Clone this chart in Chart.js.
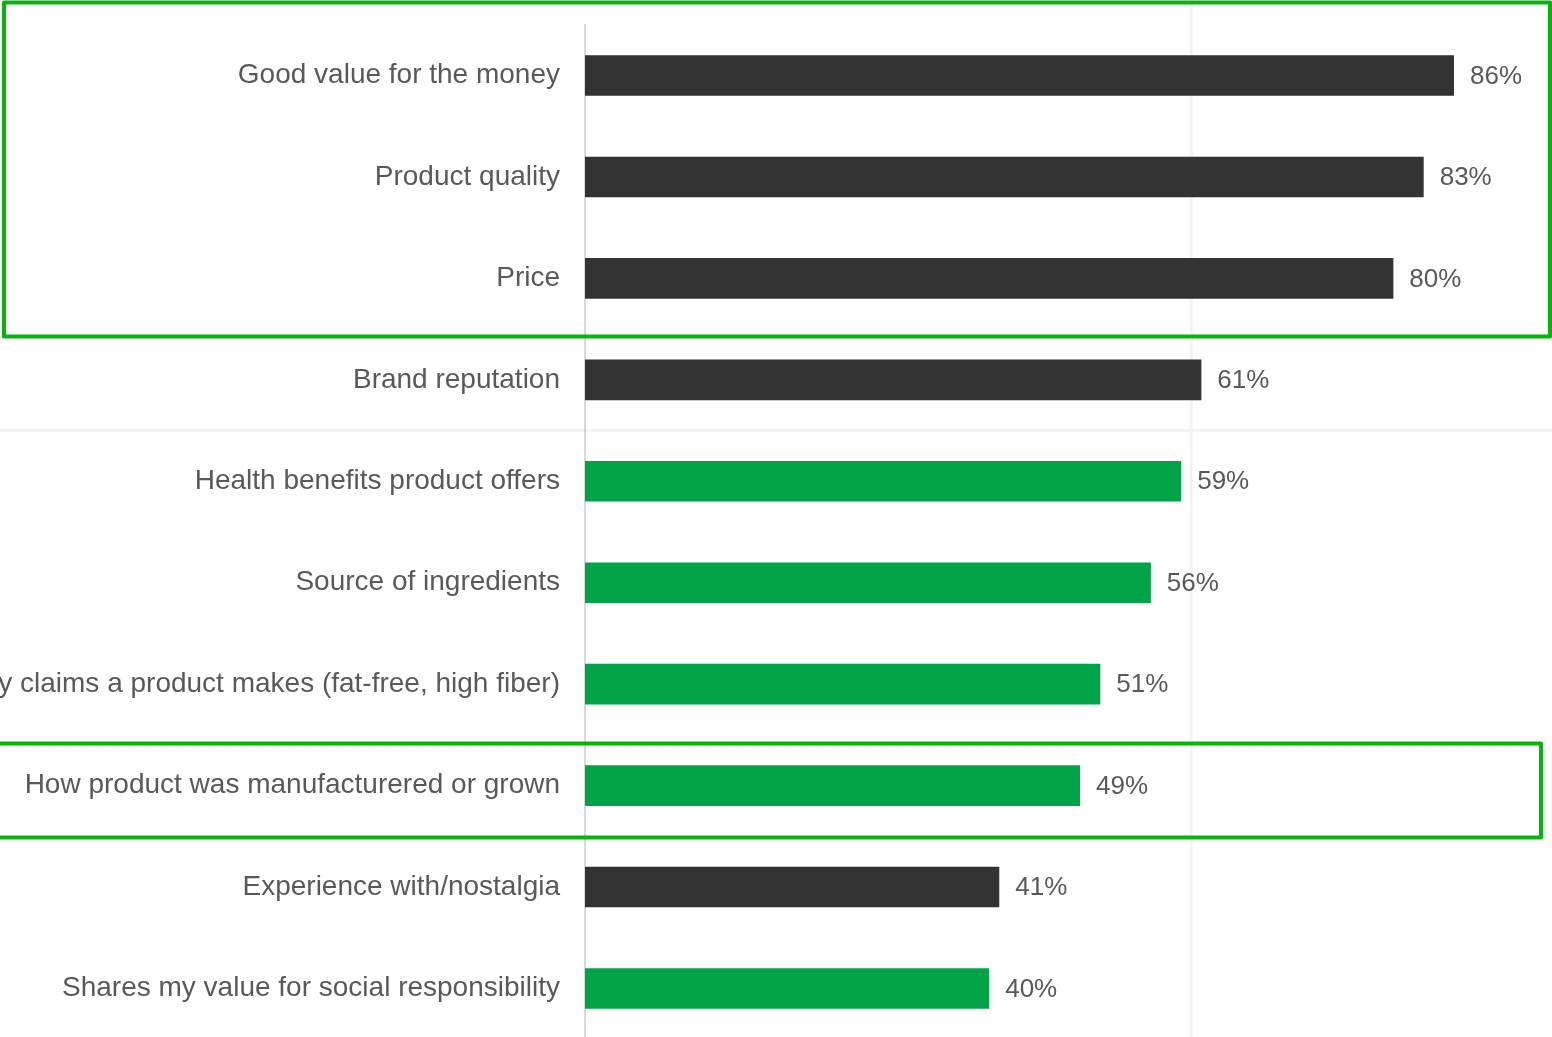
<!DOCTYPE html>
<html>
<head>
<meta charset="utf-8">
<script src="https://cdn.jsdelivr.net/npm/chart.js@4.4.1/dist/chart.umd.min.js"></script>
<style>
  html, body { margin: 0; padding: 0; background: #ffffff; overflow: hidden; }
  #wrap { width: 1552px; height: 1037px; overflow: hidden; position: relative; }
  #c { position: absolute; left: 0; top: -17px; }
</style>
</head>
<body>
<div id="wrap"><canvas id="c" width="1552" height="1098"></canvas></div>
<script>
// Purchase drivers, share of respondents (%)
const categories = [
  "Good value for the money",
  "Product quality",
  "Price",
  "Brand reputation",
  "Health benefits product offers",
  "Source of ingredients",
  "y claims a product makes (fat-free, high fiber)",
  "How product was manufacturered or grown",
  "Experience with/nostalgia",
  "Shares my value for social responsibility"
];
const values = [86, 83, 80, 61, 59, 56, 51, 49, 41, 40];
// "core" drivers are drawn dark, "transparency" drivers green
const groups = ["core", "core", "core", "core", "transparency", "transparency", "transparency", "transparency", "core", "transparency"];
// highlighted ranges of categories (first index, last index)
const highlightRanges = [[0, 2], [7, 7]];
const valueSuffix = "%";

const DARK = "#333333";
const GREEN = "#00A346";
const BOX = "#08B40C";
const TEXT = "#595959";
const FONT = "'Liberation Sans', Arial, sans-serif";

const barColors = groups.map(g => g === "core" ? DARK : GREEN);

// faint background guides: one at the 60% mark, one between rows 4 and 5
const guides = {
  id: "guides",
  beforeDatasetsDraw(chart) {
    const { ctx, scales } = chart;
    const x60 = scales.x.getPixelForValue(60);
    const yMid = (scales.y.getPixelForValue(3) + scales.y.getPixelForValue(4)) / 2;
    ctx.save();
    ctx.strokeStyle = "rgba(0,0,0,0.045)";
    ctx.lineWidth = 3;
    ctx.beginPath();
    ctx.moveTo(x60, 0); ctx.lineTo(x60, chart.height);
    ctx.moveTo(0, yMid); ctx.lineTo(chart.width, yMid);
    ctx.stroke();
    ctx.restore();
  }
};

// value labels right of each bar
const valueLabels = {
  id: "valueLabels",
  afterDatasetsDraw(chart) {
    const { ctx } = chart;
    const meta = chart.getDatasetMeta(0);
    ctx.save();
    ctx.font = "26px " + FONT;
    ctx.fillStyle = TEXT;
    ctx.textAlign = "left";
    ctx.textBaseline = "middle";
    meta.data.forEach((bar, i) => {
      ctx.fillText(values[i] + valueSuffix, bar.x + 16, bar.y + 1);
    });
    ctx.restore();
  }
};

// green outline boxes around highlighted rows
const highlightBoxes = {
  id: "highlightBoxes",
  afterDraw(chart) {
    const { ctx, chartArea, scales } = chart;
    const y = scales.y;
    ctx.save();
    ctx.strokeStyle = BOX;
    ctx.lineWidth = 4;
    ctx.lineJoin = "round";
    highlightRanges.forEach(([a, b], k) => {
      let top, bottom, left, right;
      if (k === 0) {
        top = y.getPixelForValue(a) - 73;
        bottom = y.getPixelForValue(b) + 58;
        left = 4;
        right = chartArea.right - 2;
      } else {
        top = y.getPixelForValue(a) - 42;
        bottom = y.getPixelForValue(b) + 52;
        left = -10;
        right = chartArea.right - 11;
      }
      ctx.beginPath();
      ctx.rect(left, top, right - left, bottom - top);
      ctx.stroke();
    });
    ctx.restore();
  }
};

new Chart(document.getElementById("c"), {
  type: "bar",
  data: {
    labels: categories,
    datasets: [{
      data: values,
      backgroundColor: barColors,
      borderWidth: 0,
      categoryPercentage: 0.8,
      barPercentage: 0.5
    }]
  },
  options: {
    indexAxis: "y",
    responsive: false,
    animation: false,
    layout: { padding: { top: 9, right: 0, bottom: 0, left: 0 } },
    plugins: {
      legend: { display: false },
      tooltip: { enabled: false }
    },
    scales: {
      x: {
        min: 0,
        max: 95.7,
        display: false
      },
      y: {
        ticks: {
          color: TEXT,
          font: { family: FONT, size: 28 },
          padding: 25,
          autoSkip: false
        },
        grid: { display: false, drawTicks: false },
        border: { display: true, color: "#d9d9d9", width: 2 },
        afterFit(scale) { scale.width = 585; }
      }
    }
  },
  plugins: [guides, valueLabels, highlightBoxes]
});
</script>
</body>
</html>
